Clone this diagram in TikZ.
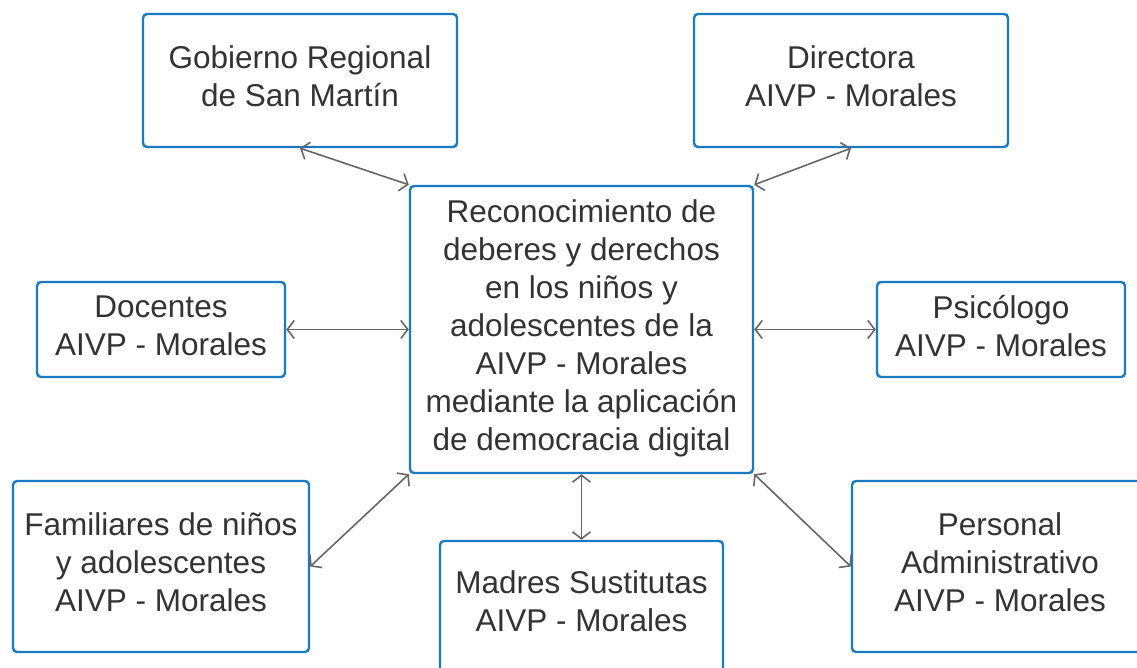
\documentclass[tikz,border=0pt]{standalone}
\usepackage{fontspec}
\setmainfont{Liberation Sans}
\usetikzlibrary{arrows.meta}
\definecolor{boxblue}{HTML}{1A7BC2}
\definecolor{txtgray}{HTML}{333333}
\definecolor{arrgray}{HTML}{666666}
\begin{document}
\begin{tikzpicture}[x=1pt,y=-1pt,
  box/.style={draw=boxblue, line width=2.4pt, rounded corners=4pt, fill=white,
    align=center, text=txtgray, inner sep=0pt, text depth=8pt,
    font=\fontsize{31.5}{38}\selectfont},
  link/.style={draw=arrgray, line width=1.6pt,
    {Straight Barb[length=7pt,width=18pt]}-{Straight Barb[length=7pt,width=18pt]}}]
\useasboundingbox (0,0) rectangle (1137,668);
\node[box, minimum width=314pt, minimum height=133pt] (gob) at (300,80.5) {Gobierno Regional\\de San Martín};
\node[box, minimum width=314pt, minimum height=133pt] (dir) at (851,80.5) {Directora\\AIVP - Morales};
\node[box, minimum width=343pt, minimum height=287pt] (cen) at (581.5,329.5) {Reconocimiento de\\deberes y derechos\\en los niños y\\adolescentes de la\\AIVP - Morales\\mediante la aplicación\\de democracia digital};
\node[box, minimum width=248pt, minimum height=95pt] (doc) at (161,329.5) {Docentes\\AIVP - Morales};
\node[box, minimum width=248pt, minimum height=95pt] (psi) at (1001,329.5) {Psicólogo\\AIVP - Morales};
\node[box, minimum width=296pt, minimum height=171pt] (fam) at (161,566.5) {Familiares de niños\\y adolescentes\\AIVP - Morales};
\node[box, minimum width=283pt, minimum height=160pt,
  label={[text=txtgray, align=center, font=\fontsize{31.5}{38}\selectfont, yshift=20pt]center:Madres Sustitutas\\AIVP - Morales}] (mad) at (581.5,621) {};
\node[box, minimum width=296pt, minimum height=171pt] (per) at (1000,566.5) {Personal\\Administrativo\\AIVP - Morales};
\draw[link] (gob.south) -- (cen.north west);
\draw[link] (dir.south) -- (cen.north east);
\draw[link] (doc.east) -- (cen.west);
\draw[link] (cen.east) -- (psi.west);
\draw[link] (fam.east) -- (cen.south west);
\draw[link] (cen.south) -- (mad.north);
\draw[link] (cen.south east) -- (per.west);
\end{tikzpicture}
\end{document}
